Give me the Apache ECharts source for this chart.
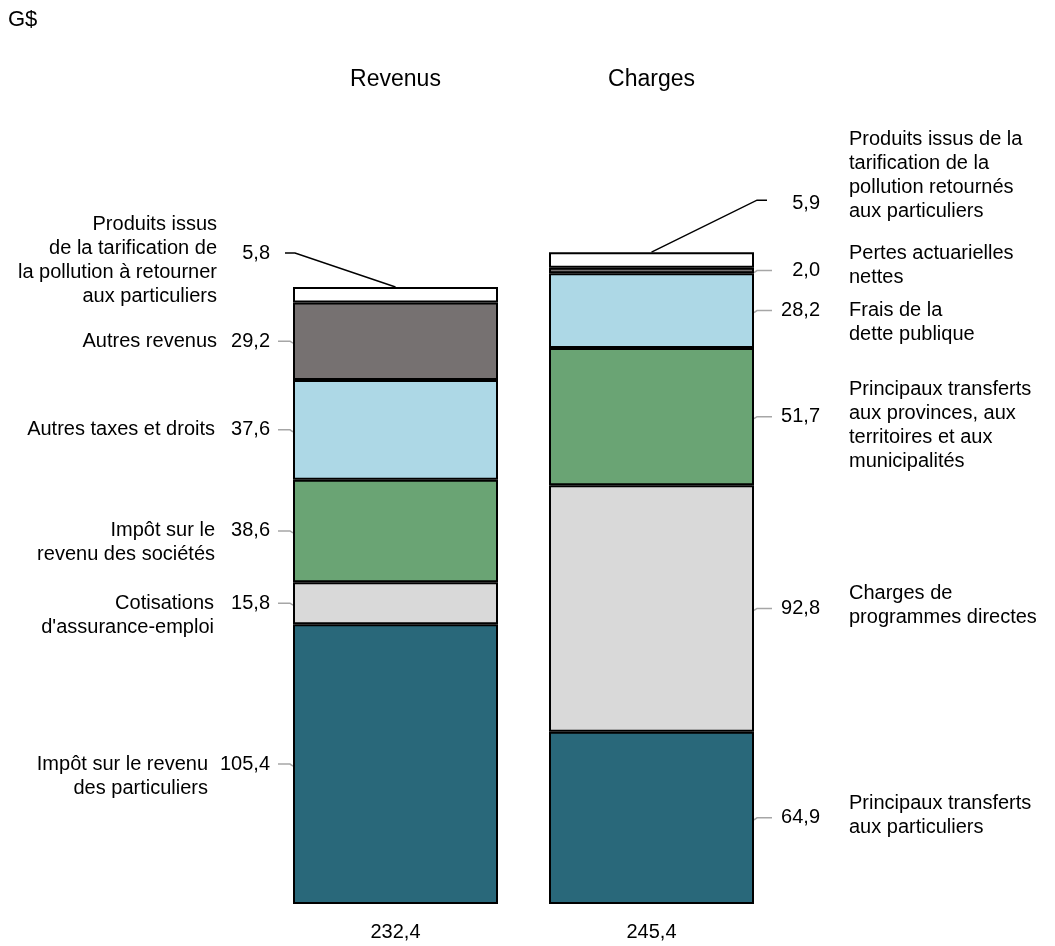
<!DOCTYPE html>
<html>
<head>
<meta charset="utf-8">
<script src="https://cdn.jsdelivr.net/npm/echarts@6/dist/echarts.min.js"></script>
<style>
html,body{margin:0;padding:0;background:#fff;}
#chart{width:1055px;height:946px;}
</style>
</head>
<body>
<div id="chart"></div>
<script>
// ---- data ----
const categories = ['Revenus', 'Charges'];
const totals = [232.4, 245.4];
const revenusValues = [105.4, 15.8, 38.6, 37.6, 29.2, 5.8];
const chargesValues = [64.9, 92.8, 51.7, 28.2, 2.0, 5.9];
const revenusNames = [
  'Impôt sur le revenu\ndes particuliers',
  "Cotisations\nd'assurance-emploi",
  'Impôt sur le\nrevenu des sociétés',
  'Autres taxes et droits',
  'Autres revenus',
  'Produits issus\nde la tarification de\nla pollution à retourner\naux particuliers'
];
const chargesNames = [
  'Principaux transferts\naux particuliers',
  'Charges de\nprogrammes directes',
  'Principaux transferts\naux provinces, aux\nterritoires et aux\nmunicipalités',
  'Frais de la\ndette publique',
  'Pertes actuarielles\nnettes',
  'Produits issus de la\ntarification de la\npollution retournés\naux particuliers'
];

// ---- styling / layout (not data) ----
const palette = ['#29687A', '#D9D9D9', '#6AA474', '#ADD8E6', '#767171', '#FFFFFF'];
const revNameDy = [12, 12, 12, 0, 0, 7];
const revNameDx = [-9, -3, -2, -2, 0, 0];
const chgNameDy = [-2, -3, 9, 12, -5, -28];
const FONT = "'Liberation Sans', Arial, sans-serif";
const BAR_W = 205;

function fmt(v) { return v.toFixed(1).replace('.', ','); }

const chart = echarts.init(document.getElementById('chart'), null, {renderer: 'canvas'});

const series = palette.map((c, i) => ({
  type: 'bar',
  stack: 'total',
  barWidth: BAR_W,
  data: [revenusValues[i], chargesValues[i]],
  itemStyle: {color: c, borderColor: '#000', borderWidth: 2},
  emphasis: {disabled: true},
  silent: true
}));

chart.setOption({
  animation: false,
  backgroundColor: '#fff',
  grid: {left: 267.5, right: 275.5, top: 107.5, bottom: 42},
  xAxis: [
    {
      type: 'category', data: categories, position: 'top',
      axisLine: {show: false}, axisTick: {show: false},
      axisLabel: {margin: 16, fontSize: 23, fontFamily: FONT, color: '#000'}
    },
    {
      type: 'category', data: totals.map(fmt), position: 'bottom',
      axisLine: {show: false}, axisTick: {show: false},
      axisLabel: {margin: 18, fontSize: 20, fontFamily: FONT, color: '#000'}
    }
  ],
  yAxis: {type: 'value', min: 0, max: 300, show: false, splitLine: {show: false}},
  series: series
});

function txt(text, x, y, align) {
  return {
    type: 'text', x: x, y: y, silent: true,
    style: {text: text, fontSize: 20, fontFamily: FONT, fill: '#000',
            align: align, verticalAlign: 'middle', lineHeight: 24}
  };
}
function pl(points, color) {
  return {
    type: 'polyline', silent: true,
    shape: {points: points},
    style: {stroke: color, lineWidth: 1.5, fill: null}
  };
}

const g = [];
g.push({type: 'text', x: 8, y: 20, silent: true,
  style: {text: 'G$', fontSize: 22, fontFamily: FONT, fill: '#000', align: 'left', verticalAlign: 'middle'}});

[revenusValues, chargesValues].forEach((vals, ci) => {
  let base = 0;
  const names = ci === 0 ? revenusNames : chargesNames;
  const dys = ci === 0 ? revNameDy : chgNameDy;
  vals.forEach((v, i) => {
    const pMid = chart.convertToPixel({gridIndex: 0}, [ci, base + v / 2]);
    const pTop = chart.convertToPixel({gridIndex: 0}, [ci, base + v]);
    base += v;
    const cx = pMid[0];
    const isTop = i === vals.length - 1;
    if (ci === 0) {
      const edge = cx - BAR_W / 2;
      let vy = pMid[1];
      if (isTop) {
        vy = pTop[1] - 33;
        g.push(pl([[edge - 8, vy - 1], [edge + 2, vy - 1], [cx, pTop[1]]], '#000'));
      } else {
        g.push(pl([[edge - 15, vy], [edge - 3, vy], [edge, vy + 2]], '#A6A6A6'));
      }
      g.push(txt(fmt(v), edge - 23, vy, 'right'));
      g.push(txt(names[i], edge - 76 + revNameDx[i], vy + dys[i], 'right'));
    } else {
      const edge = cx + BAR_W / 2;
      let vy = pMid[1];
      if (isTop) {
        vy = pTop[1] - 49;
        g.push(pl([[cx, pTop[1]], [edge + 3, vy - 3], [edge + 13, vy - 3]], '#000'));
      } else {
        g.push(pl([[edge, vy + 2], [edge + 3, vy], [edge + 18, vy]], '#A6A6A6'));
      }
      g.push(txt(fmt(v), edge + 66, vy, 'right'));
      g.push(txt(names[i], edge + 95, vy + dys[i], 'left'));
    }
  });
});

chart.setOption({graphic: g});
</script>
</body>
</html>
